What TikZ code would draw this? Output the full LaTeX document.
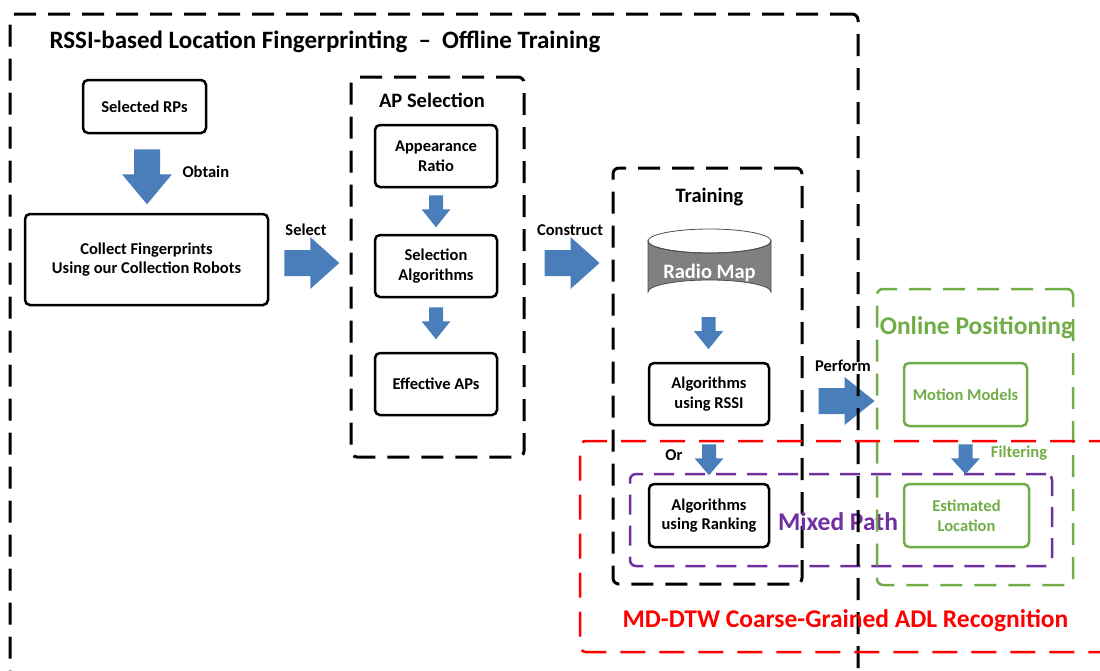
\documentclass[tikz,border=0pt]{standalone}
\usepackage{fontspec}
\setmainfont{Carlito}
\usetikzlibrary{calc}
\definecolor{arrowblue}{RGB}{74,126,187}
\definecolor{olgreen}{RGB}{112,173,71}
\definecolor{mxpurple}{RGB}{112,48,160}
\definecolor{mdred}{RGB}{255,0,0}
\definecolor{cylgray}{RGB}{128,128,128}
\tikzset{
  boxtext/.style={font=\fontsize{16.5}{19.5}\selectfont\bfseries, align=center},
  solidbox/.style={boxtext, draw=black, line width=2.5pt, rounded corners=5pt, inner sep=0pt},
  greenbox/.style={solidbox, draw=olgreen, text=olgreen},
  dbox/.style={draw=black, line width=3pt, dash pattern=on 22pt off 12pt, rounded corners=6pt, inner sep=0pt},
  bigtitle/.style={font=\fontsize{25}{29}\selectfont\bfseries},
  midtitle/.style={font=\fontsize{20.5}{24}\selectfont\bfseries},
  lbl/.style={font=\fontsize{16.5}{19.5}\selectfont\bfseries},
  pics/darrow/.style args={#1/#2/#3/#4}{code={
    \fill[arrowblue] (-#1/2,0) -- (#1/2,0) -- (#1/2,#4) -- (#2/2,#4) -- (0,#3)
      -- (-#2/2,#4) -- (-#1/2,#4) -- cycle;}},
  pics/rarrow/.style args={#1/#2/#3/#4}{code={
    \fill[arrowblue] (0,-#1/2) -- (#4,-#1/2) -- (#4,-#2/2) -- (#3,0)
      -- (#4,#2/2) -- (#4,#1/2) -- (0,#1/2) -- cycle;}},
}
\begin{document}
\begin{tikzpicture}[x=1pt,y=-1pt]
\useasboundingbox (0,0) rectangle (1100,670);

% ---- Offline training: left column
\node[solidbox, minimum width=123, minimum height=53] (rp) at (144.5,106.5) {Selected RPs};
\node[solidbox, minimum width=243, minimum height=91] (collect) at (146.5,259.5)
  {Collect Fingerprints\\Using our Collection Robots};
\pic at ($(rp.south)+(2.5,15)$) {darrow=26/50/55/25};
\node[lbl, anchor=west] (obtain) at (179,172) {Obtain};

% ---- AP selection
\node[dbox, minimum width=173, minimum height=380] (apsel) at (437.5,267) {};
\node[midtitle] (apseltitle) at (432,100) {AP Selection};
\node[solidbox, minimum width=122, minimum height=62] (ar) at (436,156) {Appearance\\Ratio};
\node[solidbox, minimum width=122, minimum height=62] (sa) at (436,266) {Selection\\Algorithms};
\node[solidbox, minimum width=122, minimum height=62] (eap) at (436,384) {Effective APs};
\pic at ($(ar.south)+(0,7)$) {darrow=14/29/32/14};
\pic at ($(sa.south)+(0,9)$) {darrow=14/29/32/14};

\pic at ($(collect.east)+(15,3.5)$) {rarrow=26/52/55/26};
\node[lbl] (select) at (306,230) {Select};

% ---- Training
\node[dbox, minimum width=189, minimum height=416] (train) at (707.5,376) {};
\node[midtitle] (traintitle) at (709.5,197) {Training};
\pic at ($(apsel.east |- collect.east)+(19,3.5)$) {rarrow=26/52/55/26};
\node[lbl] (construct) at (570,230) {Construct};

\filldraw[fill=cylgray, draw=cylgray!60!black, line width=0.8pt]
  (648,241) -- (648,292) arc[start angle=180, end angle=360, x radius=61.5, y radius=12]
  -- (771,241) arc[start angle=0, end angle=180, x radius=61.5, y radius=12] -- cycle;
\draw[cylgray!60!black, line width=0.8pt] (709.5,241) ellipse[x radius=61.5, y radius=12];
\node[font=\fontsize{20.5}{24}\selectfont\bfseries, text=white, minimum width=123, minimum height=64,
  inner sep=0pt] (radio) at (709.5,273) {Radio Map};

\node[solidbox, minimum width=120, minimum height=62] (rssi) at (709,394) {Algorithms\\using RSSI};
\node[solidbox, minimum width=120, minimum height=63] (rank) at (709,515.5) {Algorithms\\using Ranking};
\pic at ($(radio.south)+(-1,12)$) {darrow=14/29/32/14};
\pic at ($(rssi.south)+(0,18)$) {darrow=14/29/31/14};
\node[lbl] (or) at (674,455) {Or};

% ---- Perform arrow
\pic at ($(train.east |- rssi.east)+(15,7)$) {rarrow=26/48/56/26};
\node[lbl] (perform) at (843,366) {Perform};

% ---- Mixed path
\node[draw=mxpurple, line width=2.5pt, dash pattern=on 20pt off 11pt, rounded corners=6pt,
  minimum width=422, minimum height=92, inner sep=0pt] (mixed) at (841,520) {};
\node[font=\fontsize{25.5}{29}\selectfont\bfseries, text=mxpurple] (mixedtitle) at (838,522) {Mixed Path};

% ---- Outer offline box and title
\node[dbox, minimum width=848, minimum height=676] (offline) at (434,352) {};
\node[bigtitle, anchor=west] (title) at (46,42)
  {RSSI-based Location Fingerprinting\hspace{11pt}–\hspace{11pt}Offline Training};

% ---- Online positioning
\node[dbox, draw=olgreen, line width=2.5pt, minimum width=196, minimum height=296] (online) at (975,437) {};
\node[font=\fontsize{25.5}{29}\selectfont\bfseries, text=olgreen] (onlinetitle) at (976.5,328) {Online Positioning};
\node[greenbox, minimum width=123, minimum height=63] (motion) at (965.5,394.5) {Motion Models};
\node[greenbox, minimum width=125, minimum height=63] (est) at (966.5,515.5) {Estimated\\Location};
\pic at ($(motion.south)+(0,17)$) {darrow=14/29/30/14};
\node[lbl, text=olgreen] (filtering) at (1019,453) {Filtering};

% ---- Red box
\node[dbox, draw=mdred, line width=2.5pt, dash pattern=on 25pt off 14pt,
  minimum width=540, minimum height=211] (md) at (850,546.5) {};
\node[font=\fontsize{25.5}{29}\selectfont\bfseries, text=mdred] (mdtitle) at (845.5,621)
  {MD-DTW Coarse-Grained ADL Recognition};
\end{tikzpicture}
\end{document}
